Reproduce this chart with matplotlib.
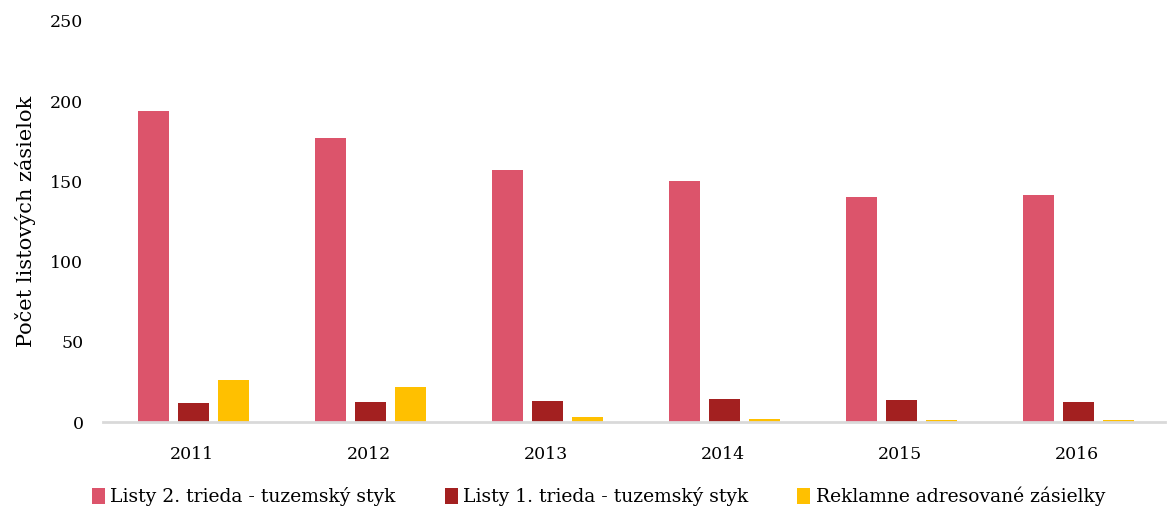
import numpy as np
import matplotlib.pyplot as plt

years = ["2011", "2012", "2013", "2014", "2015", "2016"]
listy2 = [193.8, 177.1, 156.8, 150.2, 140.4, 141.6]
listy1 = [11.8, 12.5, 13.3, 14.5, 13.9, 12.7]
reklamne = [26.2, 21.8, 3.3, 2.0, 1.4, 1.4]
labels = ["Listy 2. trieda - tuzemský styk",
          "Listy 1. trieda - tuzemský styk",
          "Reklamne adresované zásielky"]
colors = ["#DC546B", "#A32020", "#FFC000"]

plt.rcParams['font.family'] = ['DejaVu Serif']

fig = plt.figure(figsize=(11.69, 5.08), dpi=100)
ax = fig.add_axes([0.088, 0.169, 0.909, 0.79])

x = np.arange(len(years))
w = 0.175
step = 0.226
for i, (vals, lab, c) in enumerate(zip([listy2, listy1, reklamne], labels, colors)):
    ax.bar(x + (i - 1) * step + 0.01, vals, width=w, color=c, label=lab)

ax.set_xlim(-0.5, len(years) - 0.5)
ax.set_ylim(0, 250)
ax.set_yticks([0, 50, 100, 150, 200, 250])
ax.set_xticks(x)
ax.set_xticklabels(years)
ax.tick_params(axis='both', length=0, labelsize=12.5)
ax.tick_params(axis='x', pad=17)
ax.tick_params(axis='y', pad=14)
for s in ['top', 'right', 'left']:
    ax.spines[s].set_visible(False)
ax.spines['bottom'].set_color('#D9D9D9')
ax.spines['bottom'].set_linewidth(2)
ax.set_ylabel("Počet listových zásielok", fontsize=15, labelpad=10)

fig.legend(loc='lower center', ncol=3, frameon=False, fontsize=13.5,
           handlelength=0.7, handleheight=0.9, handletextpad=0.3,
           columnspacing=2.6, bbox_to_anchor=(0.512, -0.03))

fig.savefig("out.png", dpi=100)
